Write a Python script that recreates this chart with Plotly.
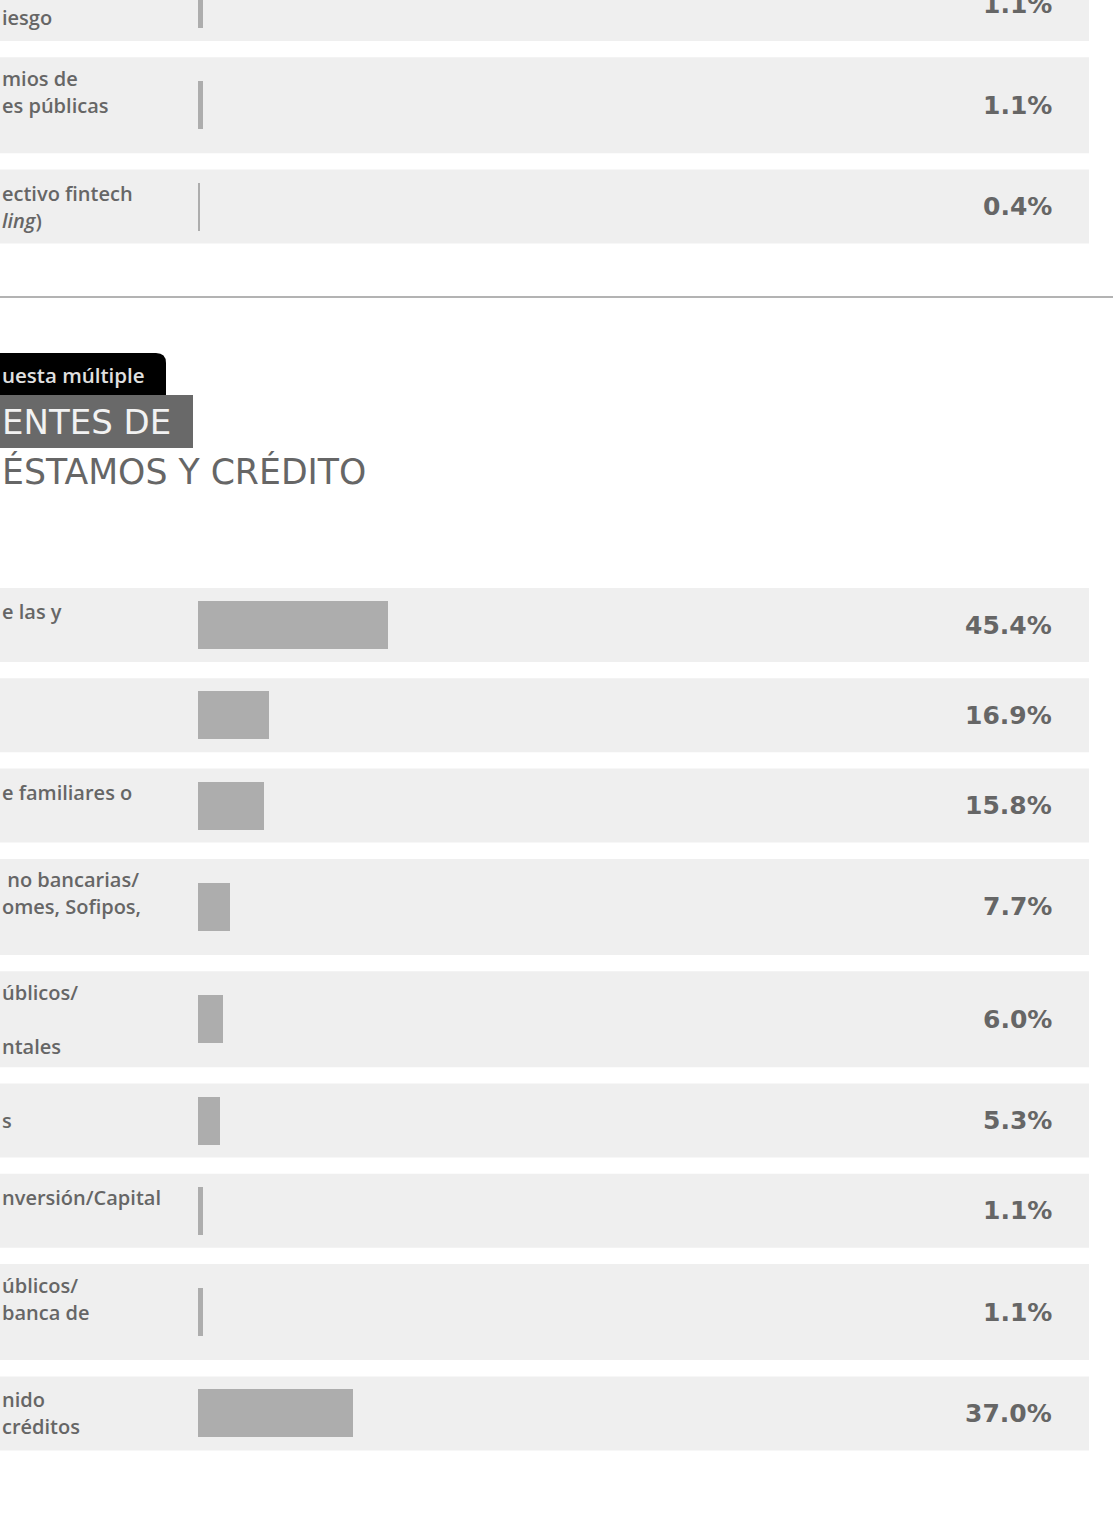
import plotly.graph_objects as go

W, H = 1113, 1515

# upper block: only the bottom of it is visible in the crop
top_labels = [
    ["", "iesgo"],
    ["mios de", "es públicas", ""],
    ["ectivo fintech", "<i>ling</i>)"],
]
top_values = [1.1, 1.1, 0.4]

# "fuentes de préstamos y crédito" block
credit_labels = [
    ["e las y", ""],
    ["", ""],
    ["e familiares o", ""],
    ["\u00a0no bancarias/", "omes, Sofipos,", ""],
    ["úblicos/", "", "ntales"],
    ["s"],
    ["nversión/Capital", ""],
    ["úblicos/", "banca de", ""],
    ["nido", "créditos"],
]
credit_values = [45.4, 16.9, 15.8, 7.7, 6.0, 5.3, 1.1, 1.1, 37.0]

tab_text = "uesta múltiple"
title_box = "ENTES DE"
title_rest = "ÉSTAMOS Y CRÉDITO"

TEXT = "#666666"
BAND = "#efefef"
BAR = "#adadad"
LABEL_FONT = {"family": "Open Sans", "size": 20, "color": TEXT, "weight": 600}
VALUE_FONT = {"family": "DejaVu Sans", "size": 25, "color": TEXT, "weight": "bold"}

BAR_X0 = 198          # pixel where the bars start
PX_PER_PCT = 4.185    # bar scale
ROW_GAP = 16.3
LINE_H = 27


def row_height(lines):
    return 96 if len(lines) > 2 else 74


def layout_rows(labels, start):
    tops, y = [], start
    for lines in labels:
        tops.append(y)
        y += row_height(lines) + ROW_GAP
    return tops


def px(xpix):
    return xpix / W


fig = go.Figure()
shapes, annotations = [], []


def add_section(labels, values, start):
    tops = layout_rows(labels, start)
    centers = []
    for lines, top in zip(labels, tops):
        h = row_height(lines)
        c = top + h / 2
        centers.append(c)
        shapes.append(dict(type="rect", xref="paper", yref="y", x0=0, x1=px(1089),
                           y0=top, y1=top + h, fillcolor=BAND, line_width=0, layer="below"))
        n = len(lines)
        for i, line in enumerate(lines):
            if not line:
                continue
            annotations.append(dict(xref="paper", yref="y", x=0, y=c + (i - (n - 1) / 2) * LINE_H,
                                    text=line, showarrow=False, xanchor="left", yanchor="middle",
                                    font=LABEL_FONT))
    for v, c in zip(values, centers):
        annotations.append(dict(xref="paper", yref="y", x=px(1054), y=c, text=f"{v:.1f}%",
                                showarrow=False, xanchor="right", yanchor="middle", font=VALUE_FONT))
    fig.add_trace(go.Bar(x=values, y=centers, orientation="h", width=48,
                         marker={"color": BAR, "line": {"width": 0}},
                         hoverinfo="skip", showlegend=False))


add_section(top_labels, top_values, -33)
add_section(credit_labels, credit_values, 588)

# separator between the two blocks
shapes.append(dict(type="line", xref="paper", yref="y", x0=0, x1=1, y0=297, y1=297,
                   line={"color": "#b3b3b3", "width": 2}))

# heading: black tab + gray box + second title line
shapes.append(dict(type="path", xref="paper", yref="y",
                   path=f"M 0,395 L 0,353 L {px(156)},353 Q {px(166)},353 {px(166)},363 L {px(166)},395 Z",
                   fillcolor="#000000", line_width=0))
shapes.append(dict(type="rect", xref="paper", yref="y", x0=0, x1=px(193), y0=395, y1=448,
                   fillcolor="#696969", line_width=0))
annotations.append(dict(xref="paper", yref="y", x=0, y=375, text=tab_text, showarrow=False,
                        xanchor="left", yanchor="middle",
                        font={"family": "Open Sans", "size": 20.5, "color": "#e0e0e0", "weight": 600}))
annotations.append(dict(xref="paper", yref="y", x=0, y=422, text=title_box, showarrow=False,
                        xanchor="left", yanchor="middle",
                        font={"family": "DejaVu Sans", "size": 34, "color": "#f2f2f2"}))
annotations.append(dict(xref="paper", yref="y", x=0, y=471, text=title_rest, showarrow=False,
                        xanchor="left", yanchor="middle",
                        font={"family": "DejaVu Sans", "size": 34.7, "color": TEXT}))

fig.update_layout(
    width=W, height=H, autosize=False,
    margin={"l": 0, "r": 0, "t": 0, "b": 0},
    paper_bgcolor="#ffffff", plot_bgcolor="rgba(0,0,0,0)",
    xaxis={"range": [-BAR_X0 / PX_PER_PCT, (W - BAR_X0) / PX_PER_PCT], "visible": False,
           "fixedrange": True},
    yaxis={"range": [H, 0], "visible": False, "fixedrange": True},
    shapes=shapes, annotations=annotations, bargap=0,
)

fig.write_html("out.html", config={"displayModeBar": False},
               post_script="document.body.style.margin='0';")
